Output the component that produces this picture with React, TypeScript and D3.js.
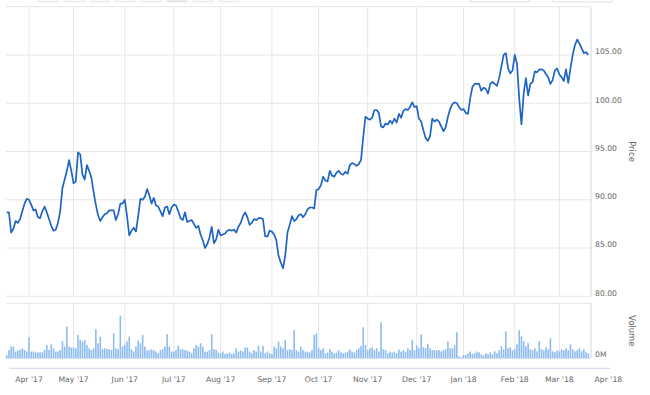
import * as d3 from "d3";
import React, { useEffect, useRef } from "react";

// first trading day shown, one bar / point per weekday after it
const startDate = new Date(2017, 2, 20);

const prices = [
  88.7, 88.7, 86.6, 87.0, 87.8, 87.6, 88.0, 88.8, 89.6, 90.1,
  90.0, 89.5, 88.9, 89.0, 88.2, 88.1, 88.8, 89.3, 88.7, 88.0,
  87.3, 86.8, 86.9, 87.6, 88.8, 91.2, 92.1, 93.0, 94.1, 93.0,
  91.7, 91.9, 94.9, 94.7, 92.6, 92.1, 93.6, 93.0, 92.3, 90.8,
  89.5, 88.4, 87.8, 88.2, 88.5, 88.6, 88.9, 88.9, 88.9, 87.9,
  88.5, 89.6, 89.6, 90.0, 88.3, 86.3, 86.8, 87.1, 86.7, 88.3,
  90.1, 90.0, 90.3, 91.1, 90.5, 89.6, 90.2, 89.4, 89.3, 88.8,
  88.3, 89.2, 89.3, 88.5, 89.2, 89.5, 89.4, 88.8, 88.1, 87.9,
  88.7, 87.7, 87.8, 87.9, 87.5, 87.1, 87.3, 86.4, 85.8, 85.0,
  85.4, 86.1, 87.2, 85.5, 85.9, 86.9, 86.3, 86.4, 86.5, 86.8,
  86.9, 86.8, 86.9, 86.6, 87.2, 87.6, 88.3, 88.7, 88.2, 87.4,
  87.6, 88.0, 87.9, 88.1, 88.1, 88.0, 86.2, 86.2, 86.8, 86.7,
  86.4, 85.8, 84.2, 83.5, 82.9, 84.2, 86.6, 87.4, 88.3, 87.8,
  88.0, 88.4, 88.5, 88.2, 88.5, 89.0, 89.2, 89.2, 89.1, 91.0,
  91.1, 91.5, 92.4, 92.0, 91.9, 93.0, 92.5, 92.4, 92.8, 93.0,
  92.7, 92.6, 92.9, 92.7, 93.6, 93.8, 93.7, 93.5, 93.7, 94.1,
  96.5, 98.6, 98.4, 98.3, 98.5, 99.3, 99.3, 99.0, 97.6, 97.5,
  97.9, 97.8, 98.2, 97.9, 98.4, 98.0, 98.9, 98.5, 99.2, 99.4,
  99.3, 99.6, 100.1, 99.6, 99.7, 98.4, 98.1, 97.2, 96.4, 96.1,
  96.6, 98.4, 98.1, 98.3, 98.1, 97.6, 97.1, 97.5, 98.6, 99.4,
  99.9, 100.1, 100.0, 99.6, 99.3, 99.4, 99.0, 98.9, 100.5, 101.7,
  102.0, 102.0, 102.0, 101.3, 101.6, 101.5, 101.0, 102.0, 102.2, 102.0,
  101.8, 102.6, 103.8, 105.0, 105.2, 103.6, 103.1, 103.4, 105.0, 104.1,
  100.5, 97.8, 101.0, 102.6, 100.8, 102.0, 102.2, 103.3, 103.2, 103.5,
  103.5, 103.4, 103.0, 102.7, 102.0, 102.4, 103.4, 103.6, 103.0, 102.7,
  102.3, 103.5, 102.1, 103.6, 105.0, 106.0, 106.6, 106.2, 105.7, 105.2,
  105.3, 105.0
];

// millions of shares
const volumes = [
  1.3, 3.3, 4.7, 4.7, 2.7, 3.1, 3.3, 4.0, 3.3, 2.7,
  8.4, 2.7, 2.7, 2.4, 2.3, 2.4, 2.4, 3.3, 5.3, 3.3,
  5.6, 4.0, 2.7, 2.7, 3.3, 6.9, 4.7, 12.7, 4.7, 4.3,
  4.3, 4.0, 9.3, 7.3, 6.7, 7.3, 5.3, 4.0, 3.3, 4.0,
  11.7, 6.0, 8.7, 3.6, 4.0, 3.7, 3.6, 3.3, 10.0, 4.0,
  3.6, 17.1, 4.7, 5.3, 6.7, 8.7, 3.6, 2.7, 4.7, 7.1,
  6.0, 9.3, 4.7, 3.1, 3.3, 3.6, 3.3, 2.7, 2.0, 3.3,
  3.7, 4.7, 9.6, 4.7, 2.7, 2.7, 3.3, 5.1, 3.6, 3.6,
  3.3, 3.1, 2.7, 2.0, 4.0, 5.3, 4.7, 6.0, 4.7, 2.7,
  2.7, 3.3, 9.6, 3.6, 3.3, 2.3, 2.0, 2.7, 1.7, 2.0,
  2.3, 1.7, 2.0, 4.0, 2.7, 3.1, 2.7, 4.3, 4.4, 2.7,
  2.0, 3.3, 2.7, 5.1, 2.7, 4.9, 2.0, 2.7, 2.0, 1.7,
  4.7, 4.0, 6.7, 4.7, 4.0, 7.3, 3.3, 3.6, 3.3, 11.3,
  3.3, 2.7, 4.7, 3.3, 2.7, 2.7, 2.3, 3.3, 9.3, 10.0,
  4.0, 3.3, 4.0, 2.0, 2.3, 3.7, 2.7, 2.0, 2.3, 3.3,
  2.3, 2.0, 2.3, 2.7, 3.6, 2.7, 2.3, 3.3, 4.0, 4.9,
  12.4, 5.3, 3.3, 4.0, 4.4, 3.3, 4.0, 2.7, 14.4, 3.6,
  3.3, 2.0, 2.7, 2.3, 2.7, 2.0, 3.6, 2.7, 3.3, 2.7,
  4.0, 3.3, 7.3, 3.3, 5.1, 4.0, 9.6, 4.4, 4.0, 5.7,
  4.0, 3.3, 3.3, 3.1, 3.3, 2.7, 3.3, 3.6, 6.7, 4.0,
  4.0, 5.3, 10.4, 0.7, 0.4, 1.3, 1.3, 2.0, 2.7, 1.7,
  2.0, 2.7, 2.4, 1.6, 1.2, 2.0, 1.6, 2.4, 1.6, 2.8,
  2.0, 3.2, 4.8, 3.6, 10.8, 4.0, 4.4, 3.2, 3.6, 5.6,
  11.2, 8.8, 6.8, 4.8, 6.0, 3.6, 3.2, 4.0, 2.8, 6.8,
  3.6, 3.2, 4.4, 3.6, 8.0, 2.8, 2.4, 3.2, 2.8, 3.6,
  3.2, 4.0, 3.2, 5.6, 3.6, 2.8, 3.2, 4.0, 2.8, 3.6,
  2.4, 2.0
];

const priceTicks = [80, 85, 90, 95, 100, 105, 110];
const volumeTicks = [0, 22];

function tradingDays(from, count) {
  const out = [];
  const d = new Date(from);
  while (out.length < count) {
    const wd = d.getDay();
    if (wd !== 0 && wd !== 6) out.push(new Date(d));
    d.setDate(d.getDate() + 1);
  }
  return out;
}

export default function App() {
  const svgRef = useRef(null);

  useEffect(() => {
    const svg = d3.select(svgRef.current);
    svg.selectAll("*").remove();

    const font = "DejaVu Sans, sans-serif";
    const paneLeft = 6.7;
    const paneRight = 591;
    const price = { top: 6.7, bottom: 296.3 };
    const vol = { top: 303.3, bottom: 358.3 };

    // extra days so the axis can reach the start of April 2018
    const days = tradingDays(startDate, prices.length + 10);

    const x = d3.scaleLinear().domain([0, prices.length - 1]).range([paneLeft, 588.3]);
    const y = d3.scaleLinear().domain([80, 110]).range([price.bottom, price.top]);
    const yv = d3.scaleLinear().domain([0, 22]).range([vol.bottom, vol.top]);

    const monthTicks = [];
    days.forEach((d, i) => {
      if (i > 0 && d.getMonth() !== days[i - 1].getMonth()) monthTicks.push({ i, date: d });
    });
    const fmt = d3.timeFormat("%b '%y");

    // range selector remains at the very top
    const top = svg.append("g");
    d3.range(8).forEach(k => {
      top.append("rect")
        .attr("x", 38 + k * 25.7).attr("y", -8).attr("width", 21).attr("height", 10)
        .attr("rx", 2)
        .attr("fill", k === 5 ? "#e6ebf5" : "#f7f7f7")
        .attr("stroke", "#dcdcdc").attr("stroke-width", 0.6);
    });
    [470, 553].forEach(bx => {
      top.append("rect")
        .attr("x", bx).attr("y", -8).attr("width", 59).attr("height", 10)
        .attr("fill", "#fff").attr("stroke", "#d0d0d0").attr("stroke-width", 0.7);
    });

    const grid = svg.append("g").attr("stroke", "#e6e6e6").attr("stroke-width", 1);

    // horizontal grid, price pane
    grid.selectAll(".hp").data(priceTicks).enter().append("line")
      .attr("x1", 6).attr("x2", paneRight)
      .attr("y1", d => y(d)).attr("y2", d => y(d));

    // horizontal grid, volume pane
    grid.selectAll(".hv").data(volumeTicks).enter().append("line")
      .attr("x1", 6).attr("x2", paneRight)
      .attr("y1", d => yv(d)).attr("y2", d => yv(d));

    // vertical month grid in both panes
    const inside = monthTicks.filter(t => x(t.i) < paneRight);
    grid.selectAll(".vp").data(inside).enter().append("line")
      .attr("x1", d => x(d.i)).attr("x2", d => x(d.i))
      .attr("y1", price.top).attr("y2", price.bottom);
    grid.selectAll(".vv").data(inside).enter().append("line")
      .attr("x1", d => x(d.i)).attr("x2", d => x(d.i))
      .attr("y1", vol.top).attr("y2", vol.bottom);

    // right axis lines
    svg.append("line")
      .attr("x1", paneRight).attr("x2", paneRight)
      .attr("y1", price.top).attr("y2", price.bottom)
      .attr("stroke", "#ccd6eb");
    svg.append("line")
      .attr("x1", paneRight).attr("x2", paneRight)
      .attr("y1", vol.top).attr("y2", vol.bottom)
      .attr("stroke", "#ccd6eb");

    // volume bars
    svg.append("g").selectAll("rect").data(volumes).enter().append("rect")
      .attr("x", (d, i) => x(i) - 0.8)
      .attr("width", 1.6)
      .attr("y", d => yv(d))
      .attr("height", d => yv(0) - yv(d))
      .attr("fill", "#8dbcf0");

    // price line
    const line = d3.line()
      .x((d, i) => x(i))
      .y(d => y(d))
      .curve(d3.curveLinear);
    svg.append("path")
      .datum(prices)
      .attr("fill", "none")
      .attr("stroke", "#1e64c3")
      .attr("stroke-width", 1.7)
      .attr("stroke-linejoin", "round")
      .attr("d", line);

    // price labels (top gridline has none)
    svg.append("g").selectAll("text").data(priceTicks.slice(0, -1)).enter().append("text")
      .attr("x", 595)
      .attr("y", d => y(d) - 0.6)
      .attr("font-family", font)
      .attr("font-size", 7.7)
      .attr("fill", "#666")
      .text(d => d.toFixed(2));

    svg.append("text")
      .attr("x", 595).attr("y", yv(0) - 1.2)
      .attr("font-family", font).attr("font-size", 7.7).attr("fill", "#666")
      .text("0M");

    // axis titles
    svg.append("text")
      .attr("transform", `translate(629,${(price.top + price.bottom) / 2}) rotate(90)`)
      .attr("text-anchor", "middle")
      .attr("font-family", font).attr("font-size", 8.5).attr("fill", "#666")
      .text("Price");
    svg.append("text")
      .attr("transform", `translate(629,${(vol.top + vol.bottom) / 2}) rotate(90)`)
      .attr("text-anchor", "middle")
      .attr("font-family", font).attr("font-size", 8.5).attr("fill", "#666")
      .text("Volume");

    // bottom date axis
    svg.append("line")
      .attr("x1", 9).attr("x2", x(monthTicks[monthTicks.length - 1].i) + 2)
      .attr("y1", 368.3).attr("y2", 368.3)
      .attr("stroke", "#ccd6eb");
    svg.append("g").selectAll("text").data(monthTicks).enter().append("text")
      .attr("x", d => x(d.i))
      .attr("y", 382)
      .attr("text-anchor", "middle")
      .attr("font-family", font)
      .attr("font-size", 7.7)
      .attr("fill", "#666")
      .text(d => fmt(d.date));
  }, []);

  return (
    <svg
      ref={svgRef}
      width={650}
      height={395}
      style={{ position: "absolute", left: 0, top: 0, background: "#fff" }}
    />
  );
}
